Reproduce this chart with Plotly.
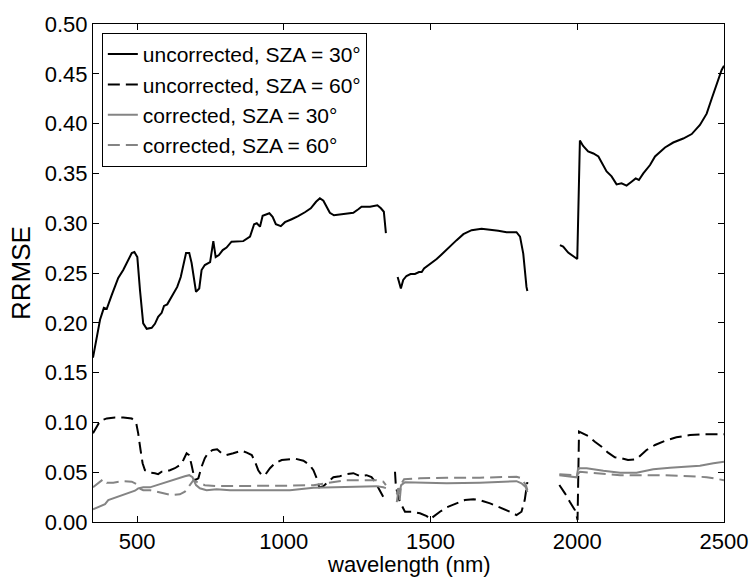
import plotly.graph_objects as go

# ---- data ----
wl_u30 = [350, 363, 374, 387, 397, 414, 436, 453, 482, 491, 501, 510, 521, 533, 550, 561, 572, 584, 592, 603,
          618, 637, 649, 667, 678, 686, 701, 712, 720, 731, 749, 760, 768, 779, 792, 805, 822, 862, 885, 899,
          908, 919, 928, 951, 962, 973, 990, 1004, 1027, 1049, 1072, 1092, 1110, 1123, 1135, 1146, 1157, 1171,
          1203, 1237, 1254, 1265, 1294, 1319, 1331, 1341, 1348,
          None,
          1388, 1399, 1407, 1418, 1432, 1447, 1461, 1470, 1478, 1498, 1521, 1543, 1566, 1589, 1612, 1640, 1674,
          1697, 1731, 1759, 1793, 1805, 1816, 1827, 1830,
          None,
          1941, 1952, 1969, 1996, 2000, 2009, 2020, 2037, 2055, 2072, 2083, 2100, 2117, 2134, 2151, 2168, 2185,
          2199, 2210, 2225, 2248, 2265, 2299, 2327, 2361, 2390, 2418, 2441, 2458, 2475, 2492, 2500]
rr_u30 = [0.165, 0.186, 0.203, 0.215, 0.214, 0.228, 0.245, 0.253, 0.270, 0.271, 0.266, 0.233, 0.1995, 0.194, 0.195,
          0.199, 0.206, 0.210, 0.217, 0.2185, 0.226, 0.236, 0.246, 0.270, 0.270, 0.260, 0.231, 0.2345, 0.253, 0.258,
          0.261, 0.282, 0.266, 0.268, 0.273, 0.2755, 0.2815, 0.282, 0.2865, 0.299, 0.300, 0.2965, 0.3075, 0.310,
          0.3065, 0.299, 0.297, 0.301, 0.304, 0.307, 0.311, 0.315, 0.3215, 0.325, 0.3225, 0.317, 0.3105, 0.308,
          0.309, 0.3105, 0.314, 0.3165, 0.3165, 0.318, 0.315, 0.3115, 0.290,
          None,
          0.246, 0.2345, 0.243, 0.247, 0.249, 0.249, 0.251, 0.251, 0.2545, 0.2585, 0.264, 0.270, 0.277, 0.283,
          0.289, 0.293, 0.2945, 0.294, 0.2925, 0.291, 0.291, 0.2865, 0.2695, 0.236, 0.232,
          None,
          0.278, 0.2765, 0.2705, 0.264, 0.264, 0.383, 0.3775, 0.372, 0.370, 0.367, 0.361, 0.352, 0.347, 0.339,
          0.340, 0.3377, 0.3417, 0.345, 0.3434, 0.350, 0.3584, 0.367, 0.376, 0.381, 0.385, 0.3895, 0.3986, 0.410,
          0.425, 0.4388, 0.4538, 0.458]

wl_u60 = [350, 363, 374, 397, 425, 453, 482, 497, 504, 512, 519, 527, 544, 561, 572, 584, 595, 612, 629, 646,
          658, 669, 678, 686, 697, 709, 720, 731, 743, 758, 766, 773, 788, 805, 828, 857, 874, 891, 902, 913, 925,
          936, 953, 970, 993, 1010, 1038, 1067, 1089, 1101, 1112, 1121, 1135, 1152, 1169, 1191, 1214, 1237, 1260,
          1282, 1299, 1311, 1322, 1334, 1345,
          None,
          1379, 1382, 1390, 1396, 1413, 1436, 1464, 1487, 1498, 1509, 1532, 1555, 1583, 1617, 1646, 1668, 1703,
          1737, 1771, 1793, 1810, 1821, 1827, 1830,
          None,
          1939, 1958, 1975, 1992, 1998, 2001, 2006, 2020, 2037, 2060, 2083, 2105, 2128, 2151, 2173, 2202, 2213,
          2236, 2265, 2299, 2338, 2384, 2430, 2464, 2500]
rr_u60 = [0.089, 0.0957, 0.1014, 0.104, 0.105, 0.105, 0.104, 0.0997, 0.089, 0.0723, 0.059, 0.052, 0.0495, 0.049,
          0.048, 0.0505, 0.0505, 0.052, 0.054, 0.0572, 0.0622, 0.069, 0.067, 0.057, 0.042, 0.0439, 0.0555, 0.064,
          0.0696, 0.0723, 0.0723, 0.073, 0.069, 0.0673, 0.069, 0.0716, 0.0696, 0.0673, 0.0605, 0.052, 0.047, 0.047,
          0.054, 0.059, 0.0622, 0.063, 0.0636, 0.0615, 0.057, 0.052, 0.044, 0.0348, 0.036, 0.0405, 0.045, 0.046,
          0.048, 0.049, 0.046, 0.047, 0.045, 0.0405, 0.034, 0.027, 0.022,
          None,
          0.0505, 0.0355, 0.0254, 0.020, 0.0103, 0.0103, 0.0087, 0.006, 0.0027, 0.0053, 0.0103, 0.0147, 0.018,
          0.022, 0.0228, 0.022, 0.0187, 0.0147, 0.0103, 0.007, 0.0103, 0.022, 0.0355, 0.040,
          None,
          0.0371, 0.0288, 0.020, 0.012, 0.006, 0.002, 0.0907, 0.089, 0.0863, 0.0806, 0.0756, 0.0696, 0.065, 0.064,
          0.0622, 0.063, 0.0663, 0.0723, 0.0773, 0.0816, 0.085, 0.0873, 0.088, 0.088, 0.088]

wl_c30 = [350, 374, 391, 402, 431, 465, 493, 504, 521, 544, 567, 601, 635, 663, 678, 689, 701, 714, 737, 771, 817,
          874, 930, 976, 1021, 1101, 1157, 1214, 1271, 1316, 1339, 1348,
          None,
          1385, 1390, 1395, 1400, 1413, 1464, 1555, 1668, 1737, 1793, 1810, 1825, 1830,
          None,
          1939, 1998, 2003, 2032, 2089, 2146, 2202, 2259, 2316, 2373, 2418, 2464, 2500]
rr_c30 = [0.0127, 0.0154, 0.018, 0.022, 0.0248, 0.028, 0.0314, 0.0338, 0.0348, 0.0348, 0.0371, 0.0405, 0.0432,
          0.046, 0.047, 0.0449, 0.0371, 0.0338, 0.032, 0.0328, 0.032, 0.032, 0.0318, 0.032, 0.032, 0.0345, 0.0348,
          0.0355, 0.036, 0.036, 0.0348, 0.034,
          None,
          0.028, 0.034, 0.030, 0.037, 0.040, 0.0398, 0.0388, 0.0395, 0.0405, 0.041, 0.0388, 0.0348, 0.030,
          None,
          0.047, 0.0449, 0.0539, 0.054, 0.0515, 0.0495, 0.0495, 0.0529, 0.0545, 0.0555, 0.0565, 0.059, 0.0605]

wl_c60 = [350, 368, 385, 397, 419, 453, 482, 499, 508, 521, 544, 567, 590, 618, 646, 663, 680, 692, 709, 731, 771,
          851, 930, 1021, 1101, 1157, 1214, 1271, 1316, 1339, 1348,
          None,
          1385, 1390, 1395, 1400, 1410, 1464, 1555, 1668, 1793, 1810, 1825, 1830,
          None,
          1939, 1998, 2009, 2066, 2146, 2213, 2293, 2384, 2441, 2500]
rr_c60 = [0.0348, 0.0395, 0.043, 0.0395, 0.0395, 0.041, 0.0405, 0.038, 0.0338, 0.032, 0.032, 0.0304, 0.0288,
          0.027, 0.0278, 0.0304, 0.0371, 0.042, 0.0395, 0.037, 0.036, 0.036, 0.036, 0.0365, 0.037, 0.0395, 0.042,
          0.042, 0.042, 0.0405, 0.037,
          None,
          0.020, 0.030, 0.022, 0.038, 0.043, 0.0439, 0.0445, 0.0445, 0.0455, 0.0439, 0.037, 0.032,
          None,
          0.048, 0.047, 0.0505, 0.049, 0.047, 0.047, 0.047, 0.046, 0.045, 0.042]

x_ticks = [500, 1000, 1500, 2000, 2500]
y_ticks = [0.00, 0.05, 0.10, 0.15, 0.20, 0.25, 0.30, 0.35, 0.40, 0.45, 0.50]

names = ["uncorrected, SZA = 30°", "uncorrected, SZA = 60°", "corrected, SZA = 30°", "corrected, SZA = 60°"]
x_title = "wavelength (nm)"
y_title = "RRMSE"

BLACK = "#000000"
GRAY = "#848484"
DASH = "12px,6px"

fig = go.Figure()
series = [
    (wl_u30, rr_u30, BLACK, "solid", 2.0),
    (wl_u60, rr_u60, BLACK, DASH, 2.0),
    (wl_c30, rr_c30, GRAY, "solid", 2.0),
    (wl_c60, rr_c60, GRAY, DASH, 2.0),
]
for (xs, ys, col, dash, w), nm in zip(series, names):
    fig.add_trace(go.Scatter(x=xs, y=ys, mode="lines", name=nm, connectgaps=False,
                             line=dict(color=col, dash=dash, width=w)))

FONT = "Liberation Sans, Arial, sans-serif"
FS = 22
fig.update_layout(
    width=750, height=579,
    margin=dict(l=93, r=26, t=24, b=57, autoexpand=False),
    paper_bgcolor="white", plot_bgcolor="white",
    font=dict(family=FONT, size=FS, color="black"),
    showlegend=True,
    legend=dict(x=0.014, y=0.982, xanchor="left", yanchor="top",
                bordercolor="black", borderwidth=1, bgcolor="white",
                font=dict(family=FONT, size=21, color="black"),
                tracegroupgap=0, itemwidth=30),
    annotations=[dict(text=x_title, xref="paper", yref="paper", x=0.5, y=-0.085,
                      xanchor="center", yanchor="middle", showarrow=False,
                      font=dict(family=FONT, size=FS, color="black"))],
)
fig.update_xaxes(range=[350, 2500], tickvals=x_ticks, ticktext=[str(v) for v in x_ticks],
                 ticks="inside", ticklen=6, tickcolor="black", tickwidth=1,
                 showline=True, linecolor="black", linewidth=1, mirror="ticks",
                 showgrid=False, zeroline=False, automargin=False,
                 tickfont=dict(size=FS))
fig.update_yaxes(range=[0, 0.5], tickvals=y_ticks, ticktext=[f"{v:.2f}" for v in y_ticks],
                 ticks="inside", ticklen=6, tickcolor="black", tickwidth=1,
                 showline=True, linecolor="black", linewidth=1, mirror="ticks",
                 showgrid=False, zeroline=False, automargin=False,
                 title=dict(text=y_title, standoff=6),
                 tickfont=dict(size=FS))

fig.write_html("out.html")
